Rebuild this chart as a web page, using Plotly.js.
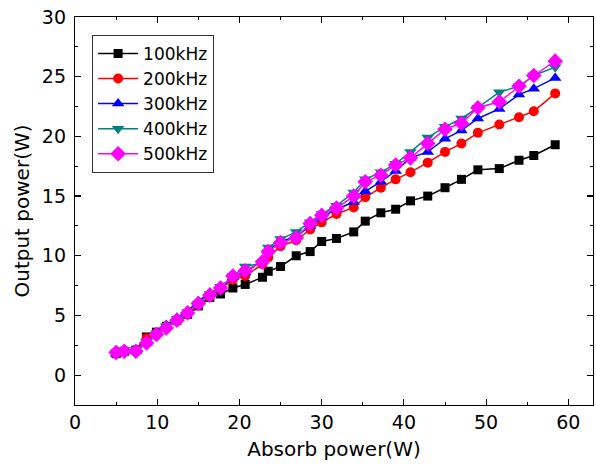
<!DOCTYPE html>
<html><head><meta charset="utf-8">
<script src="https://cdn.plot.ly/plotly-3.0.1.min.js"></script>
<style>html,body{margin:0;padding:0;background:#fff}#c{width:596px;height:469px}</style>
</head><body><div id="c"></div>
<script>
const names = ["100kHz","200kHz","300kHz","400kHz","500kHz"];
const absorb = [5, 6, 7.4, 8.7, 9.9, 11.1, 12.4, 13.7, 15, 16.4, 17.7,
  19.2, 20.7, 22.8, 23.5, 25.0, 26.9, 28.6, 30.0, 31.8,
  33.9, 35.3, 37.2, 39.0, 40.8, 42.9, 45.0, 47.0, 49.0, 51.6, 54.0, 55.8, 58.4];
const p100 = [1.8, 2.0, 2.1, 3.2, 3.6, 4.1, 4.6, 5.1, 5.8, 6.5, 6.8,
  7.3, 7.6, 8.2, 8.7, 9.1, 10.0, 10.35, 11.2, 11.45,
  12.0, 12.9, 13.6, 13.9, 14.6, 15.0, 15.7, 16.4, 17.2, 17.3, 18.0, 18.4, 19.3];
const p200 = [1.8, 2.0, 2.1, 3.1, 3.5, 4.0, 4.6, 5.2, 5.9, 6.6, 7.2,
  8.0, 8.3, 9.3, 9.85, 10.8, 11.3, 12.2, 12.8, 13.5,
  14.05, 14.9, 15.7, 16.4, 17.0, 17.8, 18.7, 19.4, 20.3, 21.0, 21.6, 22.1, 23.6];
const p300 = [1.8, 2.0, 2.0, 2.7, 3.6, 4.2, 4.8, 5.4, 6.2, 6.9, 7.3,
  8.2, 8.6, 9.6, 10.4, 11.2, 11.6, 12.5, 13.2, 13.9,
  14.5, 15.4, 16.2, 17.1, 18.2, 18.7, 19.8, 20.5, 21.5, 22.3, 23.5, 24.0, 24.9];
const p400 = [1.9, 2.1, 2.1, 2.8, 3.5, 4.1, 4.7, 5.3, 6.0, 6.8, 7.4,
  8.3, 9.1, 9.4, 10.7, 11.4, 12.0, 12.8, 13.5, 14.2,
  15.3, 16.4, 17.0, 17.7, 18.7, 19.9, 20.8, 21.5, 22.4, 23.7, 24.2, 25.1, 25.8];
const p500 = [1.9, 2.0, 2.0, 2.7, 3.4, 3.95, 4.6, 5.2, 6.0, 6.7, 7.3,
  8.3, 8.75, 9.5, 10.35, 11.1, 11.5, 12.7, 13.4, 14.0,
  15.0, 16.2, 16.75, 17.6, 18.2, 19.4, 20.6, 21.1, 22.4, 22.9, 24.2, 25.1, 26.3];

const series = [p100, p200, p300, p400, p500];
const colors = ["#000000", "#ff0000", "#0000ff", "#008080", "#ff00ff"];
const symbols = ["square", "circle", "triangle-up", "triangle-down", "diamond"];
const sizes = [9, 10, 11, 11, 12];

const traces = series.map((y, i) => ({
  x: absorb, y: y, name: names[i], type: "scatter", mode: "lines+markers",
  line: {color: colors[i], width: 1.5},
  marker: {color: colors[i], symbol: symbols[i], size: sizes[i], line: {width: 0}}
}));

const font = {family: "DejaVu Sans, sans-serif", color: "#000"};
const layout = {
  width: 596, height: 469,
  margin: {l: 75, r: 3, t: 17, b: 64},
  paper_bgcolor: "#fff", plot_bgcolor: "#fff",
  font: Object.assign({size: 18}, font),
  showlegend: true,
  legend: {x: 0.033, y: 0.954, xanchor: "left", yanchor: "top",
    bordercolor: "#333", borderwidth: 1, bgcolor: "rgba(255,255,255,0)",
    font: Object.assign({size: 17}, font), tracegroupgap: 0, itemwidth: 40},
  xaxis: {
    range: [0, 63], dtick: 10, tick0: 0, showgrid: false, zeroline: false,
    showline: true, linecolor: "#000", linewidth: 1.2, mirror: "ticks",
    ticks: "inside", ticklen: 6, tickwidth: 1.2, tickcolor: "#000",
    minor: {ticks: "inside", dtick: 5, ticklen: 3, tickwidth: 1, tickcolor: "#000"},
    tickfont: Object.assign({size: 19}, font), ticklabelstandoff: 0,
    title: {text: "Absorb power(W)", font: Object.assign({size: 20}, font), standoff: 10}
  },
  yaxis: {
    range: [-2.5, 30], dtick: 5, tick0: 0, showgrid: false, zeroline: false,
    showline: true, linecolor: "#000", linewidth: 1.2, mirror: "ticks",
    ticks: "inside", ticklen: 6, tickwidth: 1.2, tickcolor: "#000",
    minor: {ticks: "inside", dtick: 2.5, ticklen: 3, tickwidth: 1, tickcolor: "#000"},
    tickfont: Object.assign({size: 19}, font), ticklabelstandoff: 4,
    title: {text: "Output power(W)", font: Object.assign({size: 20}, font), standoff: 6}
  }
};
Plotly.newPlot("c", traces, layout, {displayModeBar: false, staticPlot: true});
</script></body></html>
